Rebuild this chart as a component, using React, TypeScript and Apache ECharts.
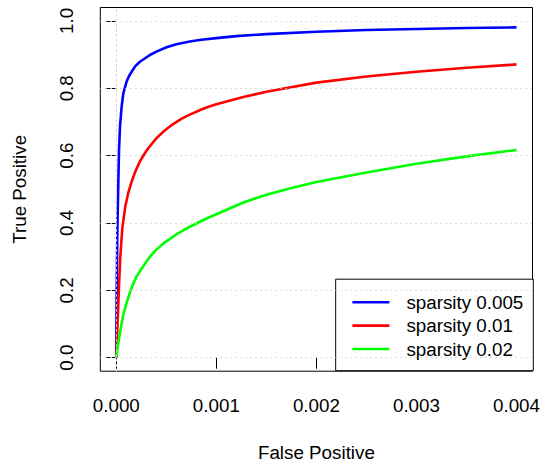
import React, { useEffect, useRef } from 'react';
import * as echarts from 'echarts';

const xTicks = [0, 0.001, 0.002, 0.003, 0.004];
const yTicks = [0, 0.2, 0.4, 0.6, 0.8, 1.0];
const seriesNames = ['sparsity 0.005', 'sparsity 0.01', 'sparsity 0.02'];
const seriesColors = ['#0000FF', '#FF0000', '#00FF00'];

const fpr005 = [0, 0.000003, 0.00001, 0.00002, 0.000027, 0.000037, 0.000053, 0.00007, 0.000103, 0.00013, 0.000153, 0.00019, 0.000236, 0.000336, 0.0004, 0.000502, 0.0006, 0.000734, 0.00085, 0.001, 0.0012, 0.0015, 0.002, 0.0025, 0.003, 0.0035, 0.004];
const tpr005 = [0, 0.17, 0.37, 0.518, 0.617, 0.686, 0.745, 0.785, 0.82, 0.838, 0.849, 0.866, 0.879, 0.899, 0.909, 0.922, 0.931, 0.939, 0.944, 0.949, 0.955, 0.961, 0.968, 0.973, 0.976, 0.979, 0.981];

const fpr01 = [0, 0.000003, 0.00001, 0.000017, 0.000027, 0.00004, 0.00006, 0.00009, 0.00012, 0.00015, 0.00019, 0.000236, 0.00028, 0.000319, 0.000402, 0.00048, 0.000568, 0.00065, 0.000734, 0.00085, 0.00093, 0.001, 0.00127, 0.0015, 0.002, 0.0025, 0.003, 0.0035, 0.004];
const tpr01 = [0, 0.023, 0.08, 0.135, 0.215, 0.3, 0.385, 0.45, 0.49, 0.52, 0.553, 0.583, 0.605, 0.622, 0.652, 0.674, 0.694, 0.709, 0.722, 0.737, 0.746, 0.753, 0.774, 0.79, 0.817, 0.835, 0.849, 0.861, 0.871];

const fpr02 = [0, 0.000015, 0.000037, 0.00007, 0.00011, 0.00014, 0.00017, 0.0002, 0.00026, 0.0003, 0.000336, 0.0004, 0.000478, 0.0006, 0.000734, 0.00085, 0.00093, 0.001, 0.00127, 0.0015, 0.00175, 0.002, 0.0025, 0.003, 0.0035, 0.004];
const tpr02 = [0, 0.035, 0.075, 0.128, 0.17, 0.197, 0.22, 0.24, 0.268, 0.285, 0.3, 0.321, 0.341, 0.366, 0.389, 0.406, 0.417, 0.426, 0.461, 0.484, 0.504, 0.522, 0.55, 0.576, 0.598, 0.617];

const FONT = "'Liberation Sans', Arial, Helvetica, sans-serif";
const FS = 18.8;

export default function App() {
  const ref = useRef<HTMLDivElement>(null);
  useEffect(() => {
    document.body.style.margin = '0';
    const chart = echarts.init(ref.current!, null, { renderer: 'svg' });
    const pairs = (xs: number[], ys: number[]) => xs.map((x, i) => [x, ys[i]]);
    const curves = [pairs(fpr005, tpr005), pairs(fpr01, tpr01), pairs(fpr02, tpr02)];
    const gridStyle = { color: '#D3D3D3', type: [1.5, 3.5] as any, width: 1 };
    const textBase = { color: '#000', fontSize: FS, fontFamily: FONT };

    chart.setOption({
      animation: false,
      backgroundColor: '#fff',
      grid: {
        left: 100.3, right: 9.3, top: 7.5, bottom: 96.8,
        show: true, borderColor: '#000', borderWidth: 1, backgroundColor: 'transparent',
      },
      xAxis: {
        type: 'value', min: -0.00016, max: 0.00416,
        splitLine: { show: false },
        axisLine: { show: false },
        axisTick: { show: true, customValues: xTicks, length: 11, lineStyle: { color: '#000', width: 1 } },
        axisLabel: { customValues: xTicks, formatter: (v: number) => v.toFixed(3), margin: 25, ...textBase },
        name: 'False Positive', nameLocation: 'middle', nameGap: 71.5,
        nameTextStyle: { ...textBase },
      },
      yAxis: {
        type: 'value', min: -0.04, max: 1.04,
        splitLine: { show: false },
        axisLine: { show: false },
        axisTick: { show: true, customValues: yTicks, length: 11, lineStyle: { color: '#000', width: 1 } },
        axisLabel: { customValues: yTicks, rotate: 90, formatter: (v: number) => v.toFixed(1), margin: 24.3, ...textBase },
        name: 'True Positive', nameLocation: 'middle', nameGap: 71, nameRotate: 90,
        nameTextStyle: { ...textBase },
      },
      legend: {
        data: seriesNames.map((n) => ({ name: n, icon: 'rect' })),
        orient: 'vertical',
        right: 9.7, bottom: 97.3,
        itemWidth: 37, itemHeight: 2.6, itemGap: 4.4,
        padding: [13.5, 10, 12.2, 16.7],
        borderColor: '#000', borderWidth: 1, borderRadius: 0, backgroundColor: '#fff',
        textStyle: { ...textBase, padding: [0, 0, 0, 12] },
      },
      series: [
        {
          type: 'line', name: 'vgrid', data: [], z: 1, silent: true,
          markLine: {
            silent: true, symbol: 'none', label: { show: false },
            lineStyle: gridStyle,
            data: xTicks.map((v) => ({ xAxis: v })),
          },
        },
        {
          type: 'line', name: 'hgrid', data: [], z: 6, silent: true,
          markLine: {
            silent: true, symbol: 'none', label: { show: false },
            lineStyle: gridStyle,
            data: yTicks.map((v) => ({ yAxis: v })),
          },
        },
        ...curves.map((d, i) => ({
          type: 'line', name: seriesNames[i], data: d, z: 2,
          symbol: 'none', showSymbol: false,
          smooth: false,
          lineStyle: { color: seriesColors[i], width: 2.6 },
          itemStyle: { color: seriesColors[i] },
        })),
      ],
    });
    return () => chart.dispose();
  }, []);
  return <div ref={ref} style={{ width: 543, height: 468 }} />;
}
